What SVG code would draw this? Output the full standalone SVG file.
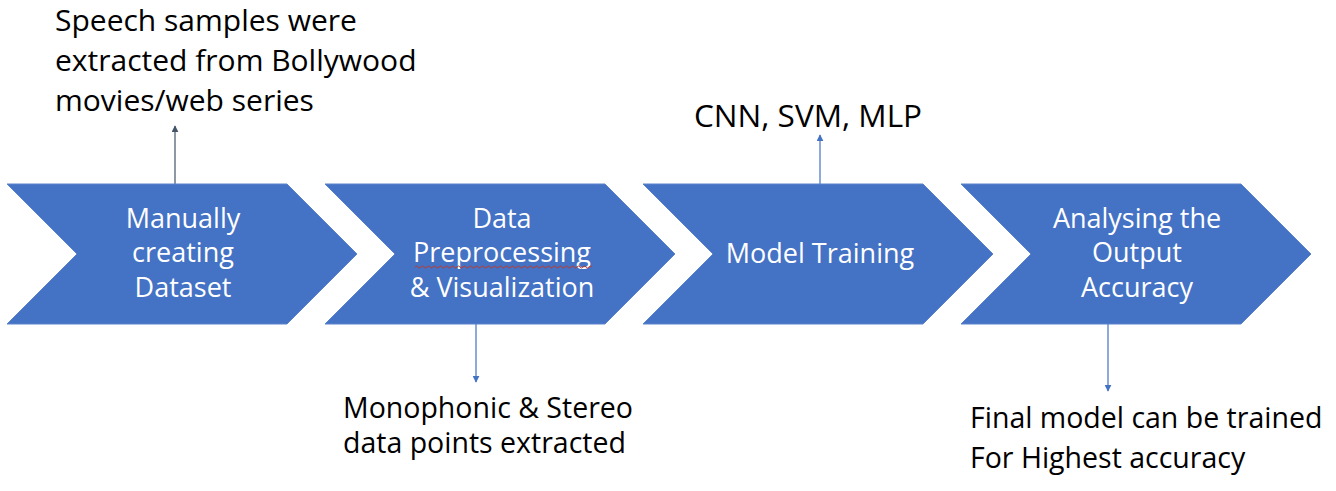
<svg xmlns="http://www.w3.org/2000/svg" width="1336" height="491" viewBox="0 0 1336 491">
<style>
.chev{fill:#4472C4;stroke:#5B83CB;stroke-width:1}
.wt{font-family:"Open Sans","Liberation Sans",sans-serif;font-size:27px;fill:#FFFFFF;text-anchor:middle}
.bt{font-family:"Open Sans","Liberation Sans",sans-serif;font-size:28.5px;fill:#000000}
.big{font-size:30px}
.c1{stroke:#44546A;stroke-width:1.2;fill:none}
.c2{stroke:#4472C4;stroke-width:1.2;fill:none}
</style>
<defs>
<marker id="ah1" viewBox="0 0 10 10" refX="9" refY="5" markerWidth="7" markerHeight="7" orient="auto" markerUnits="userSpaceOnUse"><path d="M0,0 L10,5 L0,10 z" fill="#44546A"/></marker>
<marker id="ah2" viewBox="0 0 10 10" refX="9" refY="5" markerWidth="7" markerHeight="7" orient="auto" markerUnits="userSpaceOnUse"><path d="M0,0 L10,5 L0,10 z" fill="#4472C4"/></marker>
</defs>
<g id="connectors">
<line class="c1" x1="175" y1="184" x2="175" y2="126" marker-end="url(#ah1)"/>
<line class="c2" x1="476" y1="324" x2="476" y2="382" marker-end="url(#ah2)"/>
<line class="c2" x1="820" y1="184" x2="820" y2="135" marker-end="url(#ah2)"/>
<line class="c2" x1="1108" y1="324" x2="1108" y2="391" marker-end="url(#ah2)"/>
</g>
<g id="step1">
<polygon class="chev" points="7,184 287,184 357,254 287,324 7,324 77,254"/>
<text class="wt" x="183" y="228">Manually</text>
<text class="wt" x="183" y="262">creating</text>
<text class="wt" x="183" y="297">Dataset</text>
</g>
<g id="step2">
<polygon class="chev" points="325,184 605,184 675,254 605,324 325,324 395,254"/>
<text class="wt" x="502" y="228">Data</text>
<text class="wt" x="502" y="262">Preprocessing</text>
<path d="M415,267 q1.5,-2 3,0 t3,0 t3,0 t3,0 t3,0 t3,0 t3,0 t3,0 t3,0 t3,0 t3,0 t3,0 t3,0 t3,0 t3,0 t3,0 t3,0 t3,0 t3,0 t3,0 t3,0 t3,0 t3,0 t3,0 t3,0 t3,0 t3,0 t3,0 t3,0 t3,0 t3,0 t3,0 t3,0 t3,0 t3,0 t3,0 t3,0 t3,0 t3,0 t3,0 t3,0 t3,0 t3,0 t3,0 t3,0 t3,0 t3,0 t3,0 t3,0 t3,0 t3,0 t3,0 t3,0 t3,0 t3,0 t3,0 t3,0 t3,0 t3,0" fill="none" stroke="#C0392B" stroke-width="1"/>
<text class="wt" x="502" y="297">&amp; Visualization</text>
</g>
<g id="step3">
<polygon class="chev" points="643,184 923,184 993,254 923,324 643,324 713,254"/>
<text class="wt" x="820" y="263">Model Training</text>
</g>
<g id="step4">
<polygon class="chev" points="961,184 1241,184 1311,254 1241,324 961,324 1031,254"/>
<text class="wt" x="1137" y="228">Analysing the</text>
<text class="wt" x="1137" y="262">Output</text>
<text class="wt" x="1137" y="297">Accuracy</text>
</g>
<g id="note1">
<text class="bt big" x="55" y="31">Speech samples were</text>
<text class="bt big" x="55" y="71">extracted from Bollywood</text>
<text class="bt big" x="55" y="111">movies/web series</text>
</g>
<g id="note2">
<text class="bt" x="694" y="127" style="font-size:31.5px">CNN, SVM, MLP</text>
</g>
<g id="note3">
<text class="bt" x="343" y="418">Monophonic &amp; Stereo</text>
<text class="bt" x="343" y="453">data points extracted</text>
</g>
<g id="note4">
<text class="bt" x="970" y="428">Final model can be trained</text>
<text class="bt" x="970" y="468">For Highest accuracy</text>
</g>
</svg>
